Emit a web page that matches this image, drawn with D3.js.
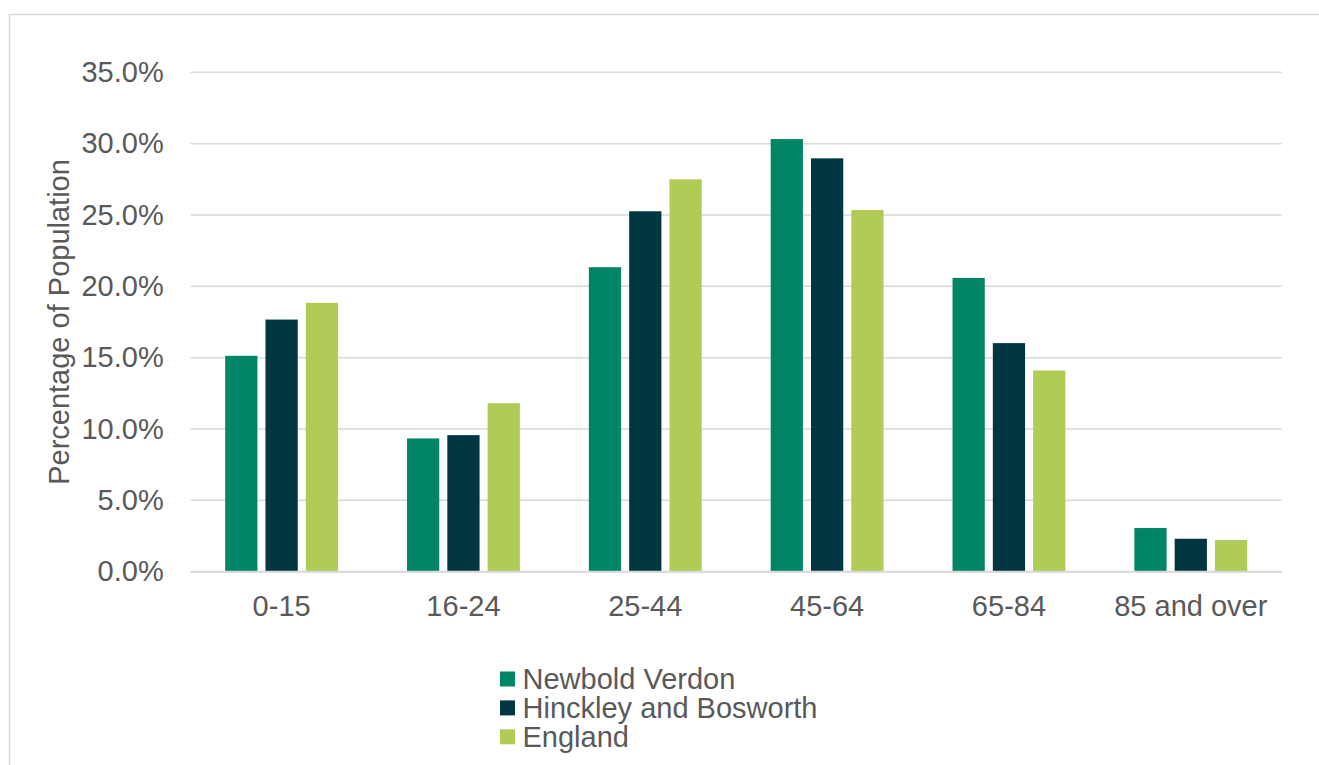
<!DOCTYPE html>
<html>
<head>
<meta charset="utf-8">
<script src="https://cdn.jsdelivr.net/npm/d3@7"></script>
<style>
  html, body { margin: 0; padding: 0; background: #fff; }
  svg { display: block; font-family: "Liberation Sans", Arial, sans-serif; }
</style>
</head>
<body>
<svg id="chart" width="1319" height="765"></svg>
<script>
const categories = ["0-15", "16-24", "25-44", "45-64", "65-84", "85 and over"];
const seriesNames = ["Newbold Verdon", "Hinckley and Bosworth", "England"];
const newboldVerdon = [15.13, 9.34, 21.34, 30.32, 20.59, 3.06];
const hinckleyBosworth = [17.67, 9.57, 25.26, 28.97, 16.02, 2.31];
const england = [18.84, 11.81, 27.50, 25.35, 14.10, 2.22];
const yTicks = [0, 5, 10, 15, 20, 25, 30, 35];
const colors = ["#008566", "#00363F", "#B0CC56"];

const seriesValues = [newboldVerdon, hinckleyBosworth, england];
const data = categories.map((c, i) => ({
  category: c,
  values: seriesNames.map((s, j) => ({ series: s, value: seriesValues[j][i], color: colors[j] }))
}));

const svg = d3.select("#chart");
const textColor = "#595959";
const gridColor = "#D9D9D9";
const fontSize = 29;

// outer border (only top and left visible within the frame)
svg.append("rect")
  .attr("x", 9.5).attr("y", 14.5)
  .attr("width", 1400).attr("height", 800)
  .attr("fill", "none").attr("stroke", gridColor).attr("stroke-width", 1.5);

const plot = { left: 190.7, right: 1281.7, top: 72.3, bottom: 571.7 };

const x0 = d3.scaleBand().domain(categories).range([plot.left, plot.right]).padding(0);
const x1 = d3.scaleBand().domain(seriesNames).range([0, x0.bandwidth()])
  .paddingInner(0.2).paddingOuter(0.856);
const y = d3.scaleLinear().domain([0, 35]).range([plot.bottom, plot.top]);

// gridlines
svg.append("g").selectAll("line").data(yTicks).join("line")
  .attr("x1", plot.left).attr("x2", plot.right)
  .attr("y1", d => y(d)).attr("y2", d => y(d))
  .attr("stroke", gridColor).attr("stroke-width", 1.5);

// y axis labels
const yAxis = d3.axisLeft(y).tickValues(yTicks).tickSize(0).tickPadding(27)
  .tickFormat(d => d3.format(".1f")(d) + "%");
const gy = svg.append("g").attr("transform", `translate(${plot.left},0)`).call(yAxis);
gy.select(".domain").remove();
gy.selectAll("text").attr("fill", textColor).style("font-size", fontSize + "px")
  .style("font-family", '"Liberation Sans", Arial, sans-serif');

// bars
const groups = svg.append("g").selectAll("g").data(data).join("g")
  .attr("transform", d => `translate(${x0(d.category)},0)`);
groups.selectAll("rect").data(d => d.values).join("rect")
  .attr("x", d => x1(d.series))
  .attr("width", x1.bandwidth())
  .attr("y", d => y(d.value))
  .attr("height", d => y(0) - y(d.value))
  .attr("fill", d => d.color);

// baseline
svg.append("line")
  .attr("x1", plot.left).attr("x2", plot.right)
  .attr("y1", y(0)).attr("y2", y(0))
  .attr("stroke", gridColor).attr("stroke-width", 2);

// x axis labels
const xAxis = d3.axisBottom(x0).tickSize(0).tickPadding(24);
const gx = svg.append("g").attr("transform", `translate(0,${plot.bottom})`).call(xAxis);
gx.select(".domain").remove();
gx.selectAll("text").attr("fill", textColor).style("font-size", fontSize + "px")
  .style("font-family", '"Liberation Sans", Arial, sans-serif');

// y axis title
svg.append("text")
  .attr("transform", `translate(69,${(plot.top + plot.bottom) / 2}) rotate(-90)`)
  .attr("text-anchor", "middle")
  .attr("fill", textColor)
  .style("font-size", fontSize + "px")
  .text("Percentage of Population");

// legend
const legend = svg.append("g").attr("transform", "translate(500,671.5)");
const items = legend.selectAll("g").data(seriesNames).join("g")
  .attr("transform", (d, i) => `translate(0,${i * 28.9})`);
items.append("rect").attr("width", 15).attr("height", 15)
  .attr("fill", (d, i) => colors[i]);
items.append("text").attr("x", 22.5).attr("y", 7.5).attr("dy", "0.36em")
  .attr("fill", textColor).style("font-size", fontSize + "px")
  .text(d => d);
</script>
</body>
</html>
